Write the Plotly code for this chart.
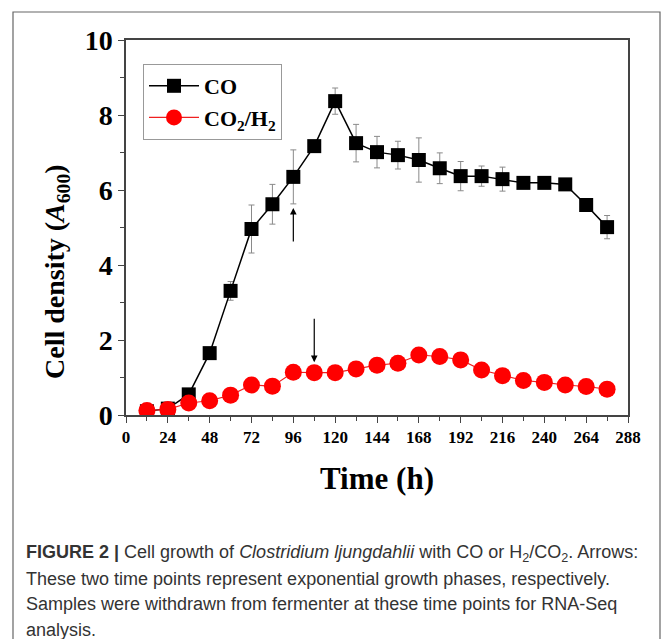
import plotly.graph_objects as go

# ---- data ----
time_h = [12, 24, 36, 48, 60, 72, 84, 96, 108, 120, 132, 144, 156, 168, 180, 192, 204, 216, 228, 240, 252, 264, 276]
co_density = [0.10, 0.17, 0.55, 1.65, 3.31, 4.96, 5.62, 6.35, 7.17, 8.37, 7.25, 7.01, 6.93, 6.80, 6.58, 6.37, 6.37, 6.29, 6.19, 6.19, 6.15, 5.60, 5.01]
co_err = [0.02, 0.03, 0.05, 0.08, 0.25, 0.64, 0.53, 0.72, 0.10, 0.35, 0.50, 0.42, 0.37, 0.59, 0.41, 0.39, 0.27, 0.32, 0.05, 0.05, 0.08, 0.05, 0.31]
h2_density = [0.12, 0.15, 0.32, 0.38, 0.53, 0.80, 0.77, 1.14, 1.13, 1.13, 1.23, 1.33, 1.38, 1.60, 1.56, 1.47, 1.20, 1.05, 0.92, 0.87, 0.80, 0.76, 0.69]
h2_err = [0.02, 0.02, 0.03, 0.03, 0.03, 0.04, 0.04, 0.05, 0.04, 0.04, 0.04, 0.05, 0.05, 0.06, 0.06, 0.12, 0.05, 0.04, 0.04, 0.04, 0.03, 0.03, 0.03]

x_ticks = [0, 24, 48, 72, 96, 120, 144, 168, 192, 216, 240, 264, 288]
y_ticks = [0, 2, 4, 6, 8, 10]

# arrows: (time, tail value, tip value)
arrows = [(96, 4.59, 5.52), (108, 2.61, 1.41)]

x_title = "<b>Time (h)</b>"
y_title = "<b>Cell density (<i>A</i><sub>600</sub>)</b>"
caption_lines = [
    "<b>FIGURE 2 |</b> Cell growth of <i>Clostridium ljungdahlii</i> with CO or H<sub>2</sub>/CO<sub>2</sub>. Arrows:",
    "These two time points represent exponential growth phases, respectively.",
    "Samples were withdrawn from fermenter at these time points for RNA-Seq",
    "analysis.",
]

# page body margin offset
O = 8
W, H = 672 - O, 639 - O
L, R, T, B = 126 - O, 628 - O, 40 - O, 415 - O
pw, ph = R - L, B - T

def px(x):  # screen pixel -> paper
    return (x - O - L) / pw

def py(y):
    return (B - (y - O)) / ph

serif = "Liberation Serif, Times New Roman, serif"
sans = "Liberation Sans, Arial, sans-serif"

fig = go.Figure()
fig.add_trace(go.Scatter(
    x=time_h, y=co_density, name="CO", mode="lines+markers",
    line=dict(color="black", width=1.5),
    marker=dict(symbol="square", size=14, color="black"),
    error_y=dict(type="data", array=co_err, color="#8a8a8a", thickness=1, width=3),
))
fig.add_trace(go.Scatter(
    x=time_h, y=h2_density, name="CO<sub>2</sub>/H<sub>2</sub>", mode="lines+markers",
    line=dict(color="#f02020", width=1.2),
    marker=dict(symbol="circle", size=17, color="#ff0000"),
    error_y=dict(type="data", array=h2_err, color="#e08080", thickness=1, width=3),
))

for t, tail, tip in arrows:
    fig.add_annotation(x=t, y=tip, ax=t, ay=tail, xref="x", yref="y", axref="x", ayref="y",
                       text="", showarrow=True, arrowhead=2, arrowsize=1.1, arrowwidth=1.2,
                       arrowcolor="black")

fig.update_xaxes(range=[0, 288], tickvals=x_ticks, ticks="outside", ticklen=6, tickwidth=1.2,
                 tickcolor="#444", showline=True, linecolor="#444", linewidth=1.5, mirror=True,
                 showgrid=False, zeroline=False, automargin=False,
                 minor=dict(dtick=12, ticks="outside", ticklen=4, tickcolor="#444", tickwidth=1),
                 tickfont=dict(family=serif, size=17, color="black", weight="bold"))
fig.update_yaxes(range=[0, 10], tickvals=y_ticks, ticks="outside", ticklen=6, tickwidth=1.2,
                 tickcolor="#444", showline=True, linecolor="#444", linewidth=1.5, mirror=True,
                 showgrid=False, zeroline=False, automargin=False,
                 minor=dict(dtick=1, ticks="outside", ticklen=4, tickcolor="#444", tickwidth=1),
                 tickfont=dict(family=serif, size=28, color="black", weight="bold"))

fig.update_layout(
    width=W, height=H, margin=dict(l=L, r=W - R, t=T, b=H - B),
    plot_bgcolor="white", paper_bgcolor="white",
    legend=dict(x=px(143), y=py(64), xanchor="left", yanchor="top",
                bordercolor="#999", borderwidth=1, bgcolor="white", itemwidth=50,
                font=dict(family=serif, size=22, color="black", weight="bold"), tracegroupgap=0),
    showlegend=True,
)

# axis titles
fig.add_annotation(x=px(377), y=py(478), xref="paper", yref="paper", showarrow=False,
                   xanchor="center", yanchor="middle", text=x_title,
                   font=dict(family=serif, size=31, color="black"))
fig.add_annotation(x=px(56), y=py(272), xref="paper", yref="paper", showarrow=False,
                   xanchor="center", yanchor="middle", textangle=-90, text=y_title,
                   font=dict(family=serif, size=28, color="black"))

# outer frame
fig.add_shape(type="rect", xref="paper", yref="paper", x0=px(13), x1=px(660), y0=py(660), y1=py(12),
              line=dict(color="#666", width=1.2), layer="below")

for i, line in enumerate(caption_lines):
    fig.add_annotation(x=px(24), y=py(553 + i * 25.7), xref="paper", yref="paper",
                       xanchor="left", yanchor="middle", showarrow=False, align="left",
                       text=line, font=dict(family=sans, size=18, color="#333"))

fig.write_html("out.html")
